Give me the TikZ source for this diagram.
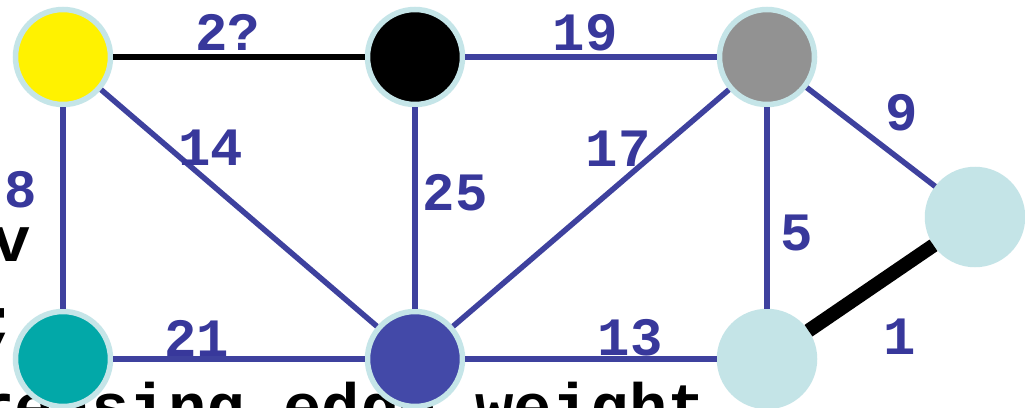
\documentclass[tikz,border=0pt]{standalone}
\usepackage{fontspec}
\setmonofont{Liberation Mono}
\definecolor{edgeblue}{RGB}{62,65,158}
\definecolor{lblblue}{RGB}{56,56,155}
\definecolor{rim}{RGB}{197,229,232}
\definecolor{paleb}{RGB}{196,228,231}
\definecolor{teal2}{RGB}{2,168,168}
\definecolor{dblue}{RGB}{67,73,168}
\definecolor{grey2}{RGB}{146,146,146}
\tikzset{
  vert/.style={circle, draw=rim, line width=5.5pt, minimum size=95pt, inner sep=0pt},
  link/.style={draw=edgeblue, line width=5.5pt},
  wlabel/.style={text=lblblue, font=\fontsize{54}{60}\selectfont\ttfamily\bfseries, inner sep=0pt},
  bgtext/.style={font=\fontsize{64}{70}\selectfont\ttfamily\bfseries, inner sep=0pt},
}
\begin{document}
\begin{tikzpicture}[x=1pt,y=-1pt]
\clip (0,0) rectangle (1025,407);
\fill[white] (0,0) rectangle (1025,407);
% background slide text fragments
\node[bgtext, anchor=base east] (tv) at (31,261) {v};
\node[bgtext, anchor=base] (ts) at (0,342) {;};
\node[bgtext, anchor=base west] (tb) at (-139,428) {increasing edge weight};
% vertices
\node[vert, fill=yellow] (Y) at (63,57) {};
\node[vert, fill=black] (B) at (415,57) {};
\node[vert, fill=grey2] (G) at (767,57) {};
\node[vert, fill=paleb, draw=paleb] (R) at (975,217) {};
\node[vert, fill=teal2] (T) at (63,359) {};
\node[vert, fill=dblue] (D) at (415,359) {};
\node[vert, fill=paleb, draw=paleb] (L) at (767,359) {};
% edges
\draw[draw=black, line width=6pt] (Y) -- (B);
\draw[link] (B) -- (G);
\draw[link] (G) -- (R);
\draw[link] (Y) -- (T);
\draw[link] (Y) -- (D);
\draw[link] (B) -- (D);
\draw[link] (D) -- (G);
\draw[link] (G) -- (L);
\draw[link] (T) -- (D);
\draw[link] (D) -- (L);
\draw[draw=black, line width=14pt] (L) -- (R);
% weights
\node[wlabel] (w2) at (228,32) {2?};
\node[wlabel] (w19) at (585,33) {19};
\node[wlabel] (w9) at (902,113) {9};
\node[wlabel] (w17) at (618,149) {17};
\node[wlabel] (w14) at (211,148) {14};
\node[wlabel] (w25) at (455,193) {25};
\node[wlabel] (w8) at (21,190) {8};
\node[wlabel] (w5) at (797,233) {5};
\node[wlabel] (w21) at (197,338) {21};
\node[wlabel] (w13) at (630,338) {13};
\node[wlabel] (w1) at (900,337) {1};
\end{tikzpicture}
\end{document}
